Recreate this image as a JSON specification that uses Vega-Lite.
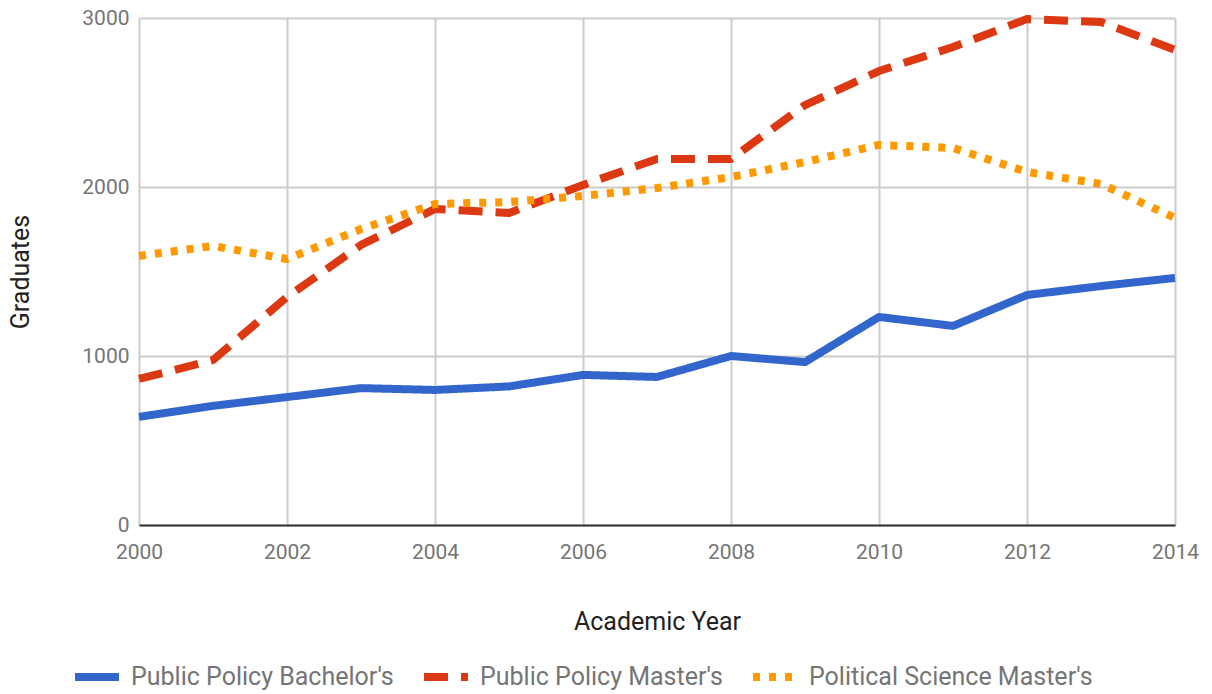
{
  "$schema": "https://vega.github.io/schema/vega-lite/v6.json",
  "width": 1036,
  "height": 507,
  "autosize": {"type": "none"},
  "padding": {"left": 139, "top": 18, "right": 37, "bottom": 169},
  "background": "white",
  "data": {
    "values": [
      {"year": 2000, "series": "Public Policy Bachelor's", "graduates": 640},
      {"year": 2001, "series": "Public Policy Bachelor's", "graduates": 705},
      {"year": 2002, "series": "Public Policy Bachelor's", "graduates": 757},
      {"year": 2003, "series": "Public Policy Bachelor's", "graduates": 810},
      {"year": 2004, "series": "Public Policy Bachelor's", "graduates": 799},
      {"year": 2005, "series": "Public Policy Bachelor's", "graduates": 820},
      {"year": 2006, "series": "Public Policy Bachelor's", "graduates": 888},
      {"year": 2007, "series": "Public Policy Bachelor's", "graduates": 876},
      {"year": 2008, "series": "Public Policy Bachelor's", "graduates": 1000},
      {"year": 2009, "series": "Public Policy Bachelor's", "graduates": 964},
      {"year": 2010, "series": "Public Policy Bachelor's", "graduates": 1231},
      {"year": 2011, "series": "Public Policy Bachelor's", "graduates": 1178},
      {"year": 2012, "series": "Public Policy Bachelor's", "graduates": 1361},
      {"year": 2013, "series": "Public Policy Bachelor's", "graduates": 1414},
      {"year": 2014, "series": "Public Policy Bachelor's", "graduates": 1462},
      {"year": 2000, "series": "Public Policy Master's", "graduates": 864},
      {"year": 2001, "series": "Public Policy Master's", "graduates": 976},
      {"year": 2002, "series": "Public Policy Master's", "graduates": 1349},
      {"year": 2003, "series": "Public Policy Master's", "graduates": 1657},
      {"year": 2004, "series": "Public Policy Master's", "graduates": 1870},
      {"year": 2005, "series": "Public Policy Master's", "graduates": 1846},
      {"year": 2006, "series": "Public Policy Master's", "graduates": 2012},
      {"year": 2007, "series": "Public Policy Master's", "graduates": 2166},
      {"year": 2008, "series": "Public Policy Master's", "graduates": 2166},
      {"year": 2009, "series": "Public Policy Master's", "graduates": 2485},
      {"year": 2010, "series": "Public Policy Master's", "graduates": 2686},
      {"year": 2011, "series": "Public Policy Master's", "graduates": 2828},
      {"year": 2012, "series": "Public Policy Master's", "graduates": 2994},
      {"year": 2013, "series": "Public Policy Master's", "graduates": 2976},
      {"year": 2014, "series": "Public Policy Master's", "graduates": 2811},
      {"year": 2000, "series": "Political Science Master's", "graduates": 1592},
      {"year": 2001, "series": "Political Science Master's", "graduates": 1651},
      {"year": 2002, "series": "Political Science Master's", "graduates": 1574},
      {"year": 2003, "series": "Political Science Master's", "graduates": 1751},
      {"year": 2004, "series": "Political Science Master's", "graduates": 1899},
      {"year": 2005, "series": "Political Science Master's", "graduates": 1911},
      {"year": 2006, "series": "Political Science Master's", "graduates": 1947},
      {"year": 2007, "series": "Political Science Master's", "graduates": 1994},
      {"year": 2008, "series": "Political Science Master's", "graduates": 2059},
      {"year": 2009, "series": "Political Science Master's", "graduates": 2148},
      {"year": 2010, "series": "Political Science Master's", "graduates": 2249},
      {"year": 2011, "series": "Political Science Master's", "graduates": 2231},
      {"year": 2012, "series": "Political Science Master's", "graduates": 2089},
      {"year": 2013, "series": "Political Science Master's", "graduates": 2018},
      {"year": 2014, "series": "Political Science Master's", "graduates": 1817}
    ]
  },
  "mark": {"type": "line", "strokeWidth": 8, "strokeCap": "butt", "strokeJoin": "round"},
  "encoding": {
    "x": {
      "field": "year",
      "type": "quantitative",
      "title": "Academic Year",
      "scale": {"domain": [2000, 2014], "nice": false, "zero": false},
      "axis": {
        "values": [2000, 2002, 2004, 2006, 2008, 2010, 2012, 2014],
        "format": "d",
        "ticks": false,
        "labelFlush": false,
        "domainColor": "#333333",
        "domainWidth": 2,
        "labelPadding": 16,
        "titlePadding": 47,
        "titleFontSize": 25,
        "titleColor": "#222222",
        "titleFontWeight": "normal"
      }
    },
    "y": {
      "field": "graduates",
      "type": "quantitative",
      "title": "Graduates",
      "scale": {"domain": [0, 3000], "nice": false},
      "axis": {
        "values": [0, 1000, 2000, 3000],
        "format": "d",
        "ticks": false,
        "domain": false,
        "labelPadding": 10,
        "titlePadding": 48,
        "titleFontSize": 25,
        "titleColor": "#222222",
        "titleFontWeight": "normal"
      }
    },
    "color": {
      "field": "series",
      "type": "nominal",
      "scale": {
        "domain": ["Public Policy Bachelor's", "Public Policy Master's", "Political Science Master's"],
        "range": ["#3366cc", "#dc3912", "#ff9900"]
      },
      "legend": {
        "orient": "none",
        "legendX": -68,
        "legendY": 633,
        "direction": "horizontal",
        "columns": 3,
        "title": null,
        "symbolType": "stroke",
        "symbolSize": 1936,
        "symbolStrokeWidth": 8,
        "labelFontSize": 25,
        "labelColor": "#757575",
        "labelFont": "Roboto",
        "labelLimit": 400,
        "columnPadding": 14,
        "labelOffset": 8
      }
    },
    "strokeDash": {
      "field": "series",
      "type": "nominal",
      "scale": {
        "domain": ["Public Policy Bachelor's", "Public Policy Master's", "Political Science Master's"],
        "range": [[1, 0], [24, 13], [7, 9]]
      },
      "legend": null
    }
  },
  "config": {
    "font": "Roboto",
    "view": {"stroke": null},
    "axis": {
      "labelFont": "Roboto",
      "titleFont": "Roboto",
      "labelFontSize": 21,
      "labelColor": "#757575",
      "gridColor": "#cccccc",
      "gridWidth": 2
    }
  }
}
